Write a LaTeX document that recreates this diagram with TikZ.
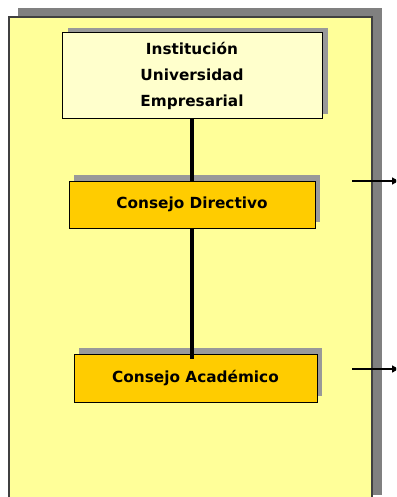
\documentclass[tikz,border=0pt]{standalone}
\usepackage{fontspec}
\setmainfont{DejaVu Sans}
\usetikzlibrary{shadows,arrows.meta}
\definecolor{panelfill}{HTML}{FFFF99}
\definecolor{topfill}{HTML}{FFFFCC}
\definecolor{boxfill}{HTML}{FFCC00}
\definecolor{shadowgray}{HTML}{999999}
\definecolor{panelshadow}{HTML}{808080}
\definecolor{panelline}{HTML}{404040}
\begin{document}
\begin{tikzpicture}[x=1pt,y=-1pt,
  orgbox/.style={draw=black, line width=1pt, font=\bfseries\fontsize{15.3}{26}\selectfont,
    align=center, inner sep=0pt, anchor=center},
  topbox/.style={orgbox, fill=topfill, minimum width=260pt, minimum height=86pt,
    drop shadow={shadow xshift=6pt, shadow yshift=5pt, fill=shadowgray, opacity=1}},
  unitbox/.style={orgbox, fill=boxfill, minimum height=47pt,
    drop shadow={shadow xshift=5pt, shadow yshift=6pt, fill=shadowgray, opacity=1}},
  link/.style={line width=3.2pt, black},
  outarrow/.style={line width=2pt, -{Latex[length=8pt,width=8pt]}}]
\useasboundingbox (0,0) rectangle (396,497);
\clip (0,0) rectangle (396,497);
% panel
\fill[panelshadow] (18,8) rectangle (382,495);
\draw[fill=panelfill, draw=panelline, line width=1.6pt] (9,17) rectangle (372,505);
% nodes
\node[topbox] (inst) at (192,76) {Institución\\Universidad\\Empresarial};
\node[unitbox, minimum width=246pt] (dir) at (192,204.5) {Consejo Directivo};
\node[unitbox, minimum width=243pt, minimum height=48pt] (acad) at (195.5,378) {Consejo Académico};
% links
\draw[link] (inst.south) -- (dir.north);
\draw[link] (dir.south) -- ([yshift=-5pt]dir.south |- acad.north);
% arrows
\coordinate (a1s) at (352,181);
\coordinate (a1e) at (400,181);
\coordinate (a2s) at (352,369);
\coordinate (a2e) at (400,369);
\draw[outarrow] (a1s) -- (a1e);
\draw[outarrow] (a2s) -- (a2e);
\end{tikzpicture}
\end{document}
